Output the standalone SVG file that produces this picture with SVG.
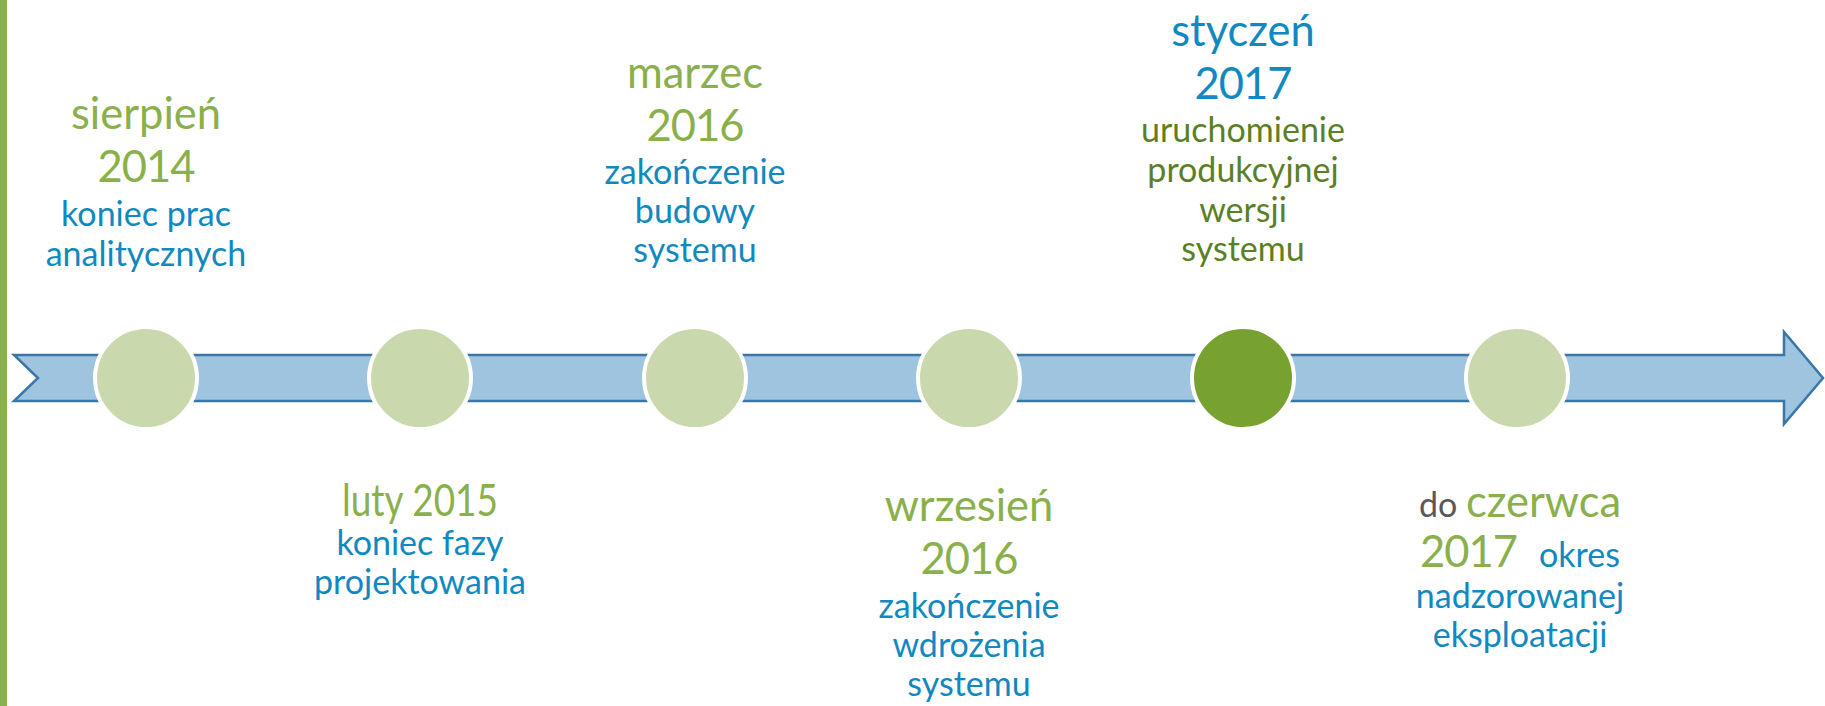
<svg xmlns="http://www.w3.org/2000/svg" width="1825" height="706" viewBox="0 0 1825 706">
<style>
text{font-family:Lato,"Noto Sans",sans-serif;text-anchor:middle}
.big{font-size:43.5px;fill:#8AB04C}
.bigb{font-size:43.5px;fill:#1089C0}
.sm{font-size:34px;fill:#1089C0}
.smg{font-size:34px;fill:#5C7F25}
.gray{font-size:34px;fill:#595959}
.dot{fill:#C9D9AD;stroke:#FFFFFF;stroke-width:4}
.dot.active{fill:#78A22F}
</style>
<rect width="1825" height="706" fill="#FFFFFF"/>
<rect x="0" y="0" width="7" height="706" fill="#8AB04C"/>
<g id="connectors">
<path d="M14,355 L1784,355 L1784,332 L1823,378 L1784,424 L1784,401 L14,401 L38,378 Z" fill="#9EC4E0" stroke="#3B76A8" stroke-width="2.5" stroke-linejoin="miter"/>
</g>
<g id="node1">
<circle class="dot" cx="146" cy="378" r="51"/>
<text class="big" x="146" y="129">sierpień</text>
<text class="big" x="146" y="182" letter-spacing="-1">2014</text>
<text class="sm" x="146" y="226">koniec prac</text>
<text class="sm" x="146" y="266">analitycznych</text>
</g>
<g id="node2">
<circle class="dot" cx="420" cy="378" r="51"/>
<text class="big" x="420" y="516" textLength="156" lengthAdjust="spacingAndGlyphs">luty 2015</text>
<text class="sm" x="420" y="555">koniec fazy</text>
<text class="sm" x="420" y="594">projektowania</text>
</g>
<g id="node3">
<circle class="dot" cx="695" cy="378" r="51"/>
<text class="big" x="695" y="88">marzec</text>
<text class="big" x="695" y="141" letter-spacing="-1">2016</text>
<text class="sm" x="695" y="184">zakończenie</text>
<text class="sm" x="695" y="223">budowy</text>
<text class="sm" x="695" y="262">systemu</text>
</g>
<g id="node4">
<circle class="dot" cx="969" cy="378" r="51"/>
<text class="big" x="969" y="521">wrzesień</text>
<text class="big" x="969" y="574" letter-spacing="-1">2016</text>
<text class="sm" x="969" y="618">zakończenie</text>
<text class="sm" x="969" y="657">wdrożenia</text>
<text class="sm" x="969" y="696">systemu</text>
</g>
<g id="node5">
<circle class="dot active" cx="1243" cy="378" r="51"/>
<text class="bigb" x="1243" y="46">styczeń</text>
<text class="bigb" x="1243" y="99" letter-spacing="-1">2017</text>
<text class="smg" x="1243" y="142">uruchomienie</text>
<text class="smg" x="1243" y="182">produkcyjnej</text>
<text class="smg" x="1243" y="222">wersji</text>
<text class="smg" x="1243" y="261">systemu</text>
</g>
<g id="node6">
<circle class="dot" cx="1517" cy="378" r="51"/>
<text x="1520" y="517"><tspan class="gray">do </tspan><tspan class="big">czerwca</tspan></text>
<text x="1520" y="567"><tspan class="big" letter-spacing="-1">2017</tspan><tspan class="sm" dx="22">okres</tspan></text>
<text class="sm" x="1520" y="608">nadzorowanej</text>
<text class="sm" x="1520" y="647">eksploatacji</text>
</g>
</svg>
